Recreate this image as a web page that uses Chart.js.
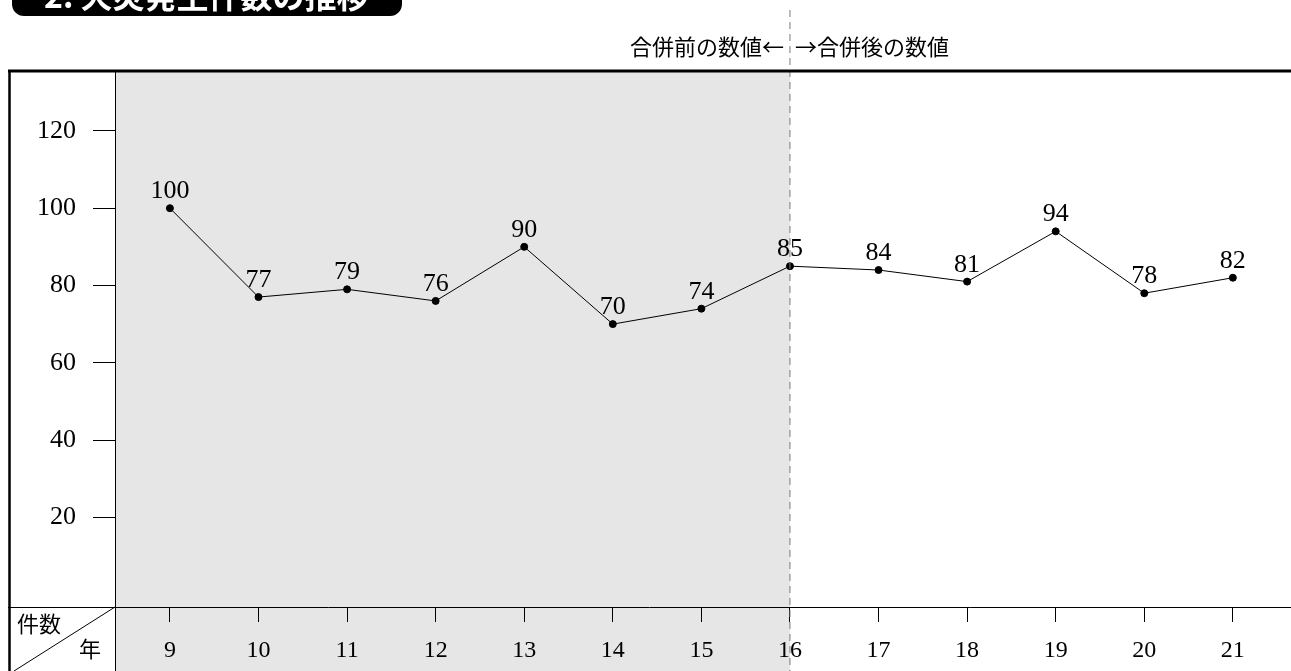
<!DOCTYPE html>
<html>
<head>
<meta charset="utf-8">
<script src="https://cdn.jsdelivr.net/npm/chart.js@4/dist/chart.umd.min.js"></script>
<style>
  html, body { margin: 0; padding: 0; background: #fff; overflow: hidden; }
  #wrap { width: 1291px; height: 671px; position: relative; }
</style>
</head>
<body>
<div id="wrap"><canvas id="fireChart"></canvas></div>
<script>
  // data
  var years = [9, 10, 11, 12, 13, 14, 15, 16, 17, 18, 19, 20, 21];
  var fireCounts = [100, 77, 79, 76, 90, 70, 74, 85, 84, 81, 94, 78, 82];
  var yTicks = [20, 40, 60, 80, 100, 120];
  var mergeYear = 16;
  var titleText = '2. 火災発生件数の推移';
  var beforeText = '合併前の数値←';
  var afterText = '→合併後の数値';

  var serif = '"Liberation Serif", "Noto Sans CJK JP", serif';
  var jp = '"Noto Sans CJK JP", sans-serif';

  // grey block for the pre-merger years
  var backdrop = {
    id: 'backdrop',
    beforeDraw: function (chart) {
      var c = chart.ctx, a = chart.chartArea;
      var xm = chart.scales.x.getPixelForValue(mergeYear);
      c.save();
      c.fillStyle = '#e6e6e6';
      c.fillRect(a.left, a.top, xm - a.left, chart.height - a.top);
      c.restore();
    }
  };

  // numbers above each point
  var pointLabels = {
    id: 'pointLabels',
    afterDatasetsDraw: function (chart) {
      var c = chart.ctx;
      var meta = chart.getDatasetMeta(0);
      c.save();
      c.font = '26px ' + serif;
      c.fillStyle = '#000';
      c.textAlign = 'center';
      c.textBaseline = 'alphabetic';
      meta.data.forEach(function (pt, i) {
        c.fillText(String(fireCounts[i]), pt.x, pt.y - 10);
      });
      c.restore();
    }
  };

  // frame, dashed divider, notes and title
  var decorations = {
    id: 'decorations',
    afterDraw: function (chart) {
      var c = chart.ctx, a = chart.chartArea, W = chart.width, H = chart.height;
      var xm = chart.scales.x.getPixelForValue(mergeYear);
      c.save();

      // divider
      c.strokeStyle = '#7a7a7a';
      c.lineWidth = 1;
      c.setLineDash([7, 5]);
      c.beginPath();
      c.moveTo(xm, 10);
      c.lineTo(xm, H);
      c.stroke();
      c.setLineDash([]);

      // frame lines
      c.strokeStyle = '#000';
      c.lineWidth = 3;
      c.beginPath();
      c.moveTo(8, a.top);
      c.lineTo(W, a.top);
      c.stroke();
      c.lineWidth = 2.5;
      c.beginPath();
      c.moveTo(9.5, a.top);
      c.lineTo(9.5, H);
      c.stroke();
      c.lineWidth = 1;
      c.beginPath();
      c.moveTo(a.left + 0.5, a.top);
      c.lineTo(a.left + 0.5, H);
      c.moveTo(8, a.bottom + 0.5);
      c.lineTo(W, a.bottom + 0.5);
      c.moveTo(a.left, a.bottom);
      c.lineTo(14, H);
      c.stroke();

      // corner cell
      c.fillStyle = '#000';
      c.font = '22px ' + jp;
      c.textBaseline = 'middle';
      c.textAlign = 'left';
      c.fillText('件数', 17, a.bottom + 17);
      c.fillText('年', 79, a.bottom + 42);

      // merge notes
      c.font = '22px ' + jp;
      c.textAlign = 'right';
      c.fillText(beforeText, xm - 6, 47);
      c.textAlign = 'left';
      c.fillText(afterText, xm + 5, 47);

      // title bar, cut off at the top
      c.fillStyle = '#000';
      c.beginPath();
      c.roundRect(12, -40, 390, 56, 12);
      c.fill();
      c.fillStyle = '#fff';
      c.font = 'bold 32px ' + jp;
      c.textAlign = 'left';
      c.textBaseline = 'alphabetic';
      c.fillText(titleText, 44, 8);

      c.restore();
    }
  };

  document.addEventListener('DOMContentLoaded', function () {
    var ctx = document.getElementById('fireChart').getContext('2d');
    var fireChart = new Chart(ctx, {
      type: 'line',
      data: {
        datasets: [{
          data: years.map(function (y, i) { return { x: y, y: fireCounts[i] }; }),
          borderColor: '#000',
          borderWidth: 1,
          pointRadius: 3.5,
          pointBackgroundColor: '#000',
          pointBorderColor: '#000',
          tension: 0
        }]
      },
      options: {
        responsive: true,
        maintainAspectRatio: false,
        animation: false,
        layout: { padding: { left: 8, top: 71, right: 0, bottom: 0 } },
        plugins: { legend: { display: false }, tooltip: { enabled: false } },
        scales: {
          x: {
            type: 'linear',
            min: 8.38,
            max: 21.6,
            afterBuildTicks: function (s) { s.ticks = years.map(function (v) { return { value: v }; }); },
            afterFit: function (s) { s.height = 64; },
            border: { display: false },
            grid: { drawOnChartArea: false, drawTicks: true, tickLength: 15, color: '#000', lineWidth: 1 },
            ticks: {
              autoSkip: false, maxRotation: 0, padding: 14, color: '#000',
              font: { family: serif, size: 24 },
              callback: function (v) { return String(v); }
            }
          },
          y: {
            min: -3.2,
            max: 135.5,
            afterBuildTicks: function (s) { s.ticks = yTicks.map(function (v) { return { value: v }; }); },
            afterFit: function (s) { s.width = 107; },
            border: { display: false },
            grid: { drawOnChartArea: false, drawTicks: true, tickLength: 22, color: '#000', lineWidth: 1 },
            ticks: {
              padding: 17, color: '#000',
              font: { family: serif, size: 26 },
              callback: function (v) { return String(v); }
            }
          }
        }
      },
      plugins: [backdrop, pointLabels, decorations]
    });
  });
</script>
</body>
</html>
